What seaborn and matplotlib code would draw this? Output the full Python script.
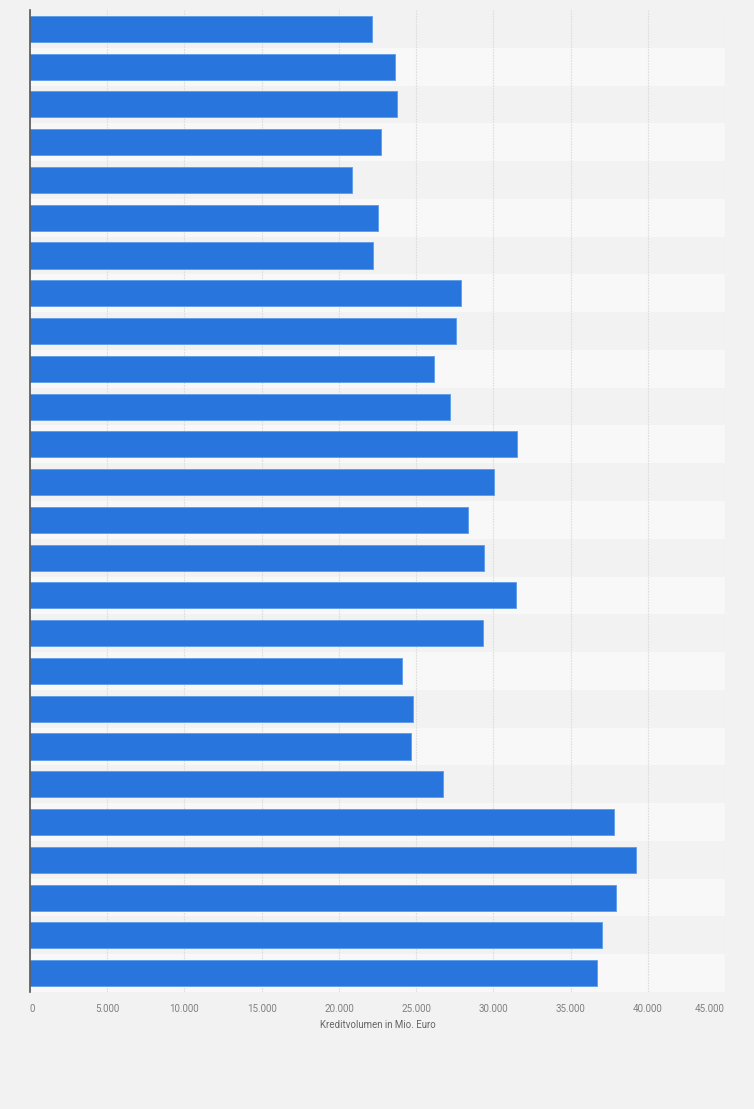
import numpy as np
import pandas as pd
import matplotlib
matplotlib.use('Agg')
import matplotlib.pyplot as plt
import seaborn as sns

# -----------------------------
# DATA
# -----------------------------

# rows have no visible labels in the chart, so plain row ids are used
rows = [str(i) for i in range(1, 27)]

volumes = [
    22170, 23620, 23790, 22750, 20870, 22520, 22230,
    27890, 27570, 26190, 27220, 31520, 30030, 28350,
    29380, 31460, 29320, 24110, 24790, 24660, 26730,
    37800, 39250, 37930, 37030, 36700,
]

x_ticks = [0, 5000, 10000, 15000, 20000, 25000, 30000, 35000, 40000, 45000]
x_labels = ['0', '5.000', '10.000', '15.000', '20.000', '25.000',
            '30.000', '35.000', '40.000', '45.000']
x_title = 'Kreditvolumen in Mio. Euro'

df = pd.DataFrame({'row': rows, 'volume': volumes})

# -----------------------------
# STYLE
# -----------------------------

sns.set_style('white')
plt.rcParams['font.family'] = ['Liberation Sans Narrow', 'Roboto', 'DejaVu Sans']

bg = '#f2f2f2'
band = '#f8f8f8'
bar_color = '#2876dd'

fig = plt.figure(figsize=(7.54, 11.09), dpi=100, facecolor=bg)
ax = fig.add_axes([30 / 754, 1 - 992 / 1109, 695 / 754, 982 / 1109])
ax.set_facecolor(bg)

# -----------------------------
# PLOT
# -----------------------------

sns.barplot(data=df, x='volume', y='row', orient='h', color=bar_color,
            width=0.69, saturation=1, edgecolor='#5c9bea', linewidth=0.6,
            ax=ax, zorder=3)

# alternating row bands
for i in range(len(rows)):
    if i % 2 == 1:
        ax.axhspan(i - 0.5, i + 0.5, color=band, zorder=0, lw=0)

ax.set_xlim(0, 45000)
ax.set_ylim(len(rows) - 0.5, -0.5)

ax.set_xticks(x_ticks)
ax.set_xticklabels(x_labels)
ticks = ax.get_xticklabels()
ticks[0].set_ha('left')
ticks[-1].set_ha('right')
ax.tick_params(axis='x', length=0, pad=9, labelsize=7, labelcolor='#808080')
ax.set_yticks([])
ax.set_ylabel('')
ax.set_xlabel(x_title, fontsize=7, color='#666666', labelpad=4)

ax.grid(axis='x', color='#dddddd', linestyle=(0, (1.5, 1)), linewidth=0.8, zorder=1)
ax.set_axisbelow(False)

for side in ['top', 'right', 'bottom']:
    ax.spines[side].set_visible(False)
ax.spines['left'].set_color('#555555')
ax.spines['left'].set_linewidth(1.2)
ax.spines['left'].set_zorder(4)

fig.savefig('out.png', dpi=100, facecolor=bg)
